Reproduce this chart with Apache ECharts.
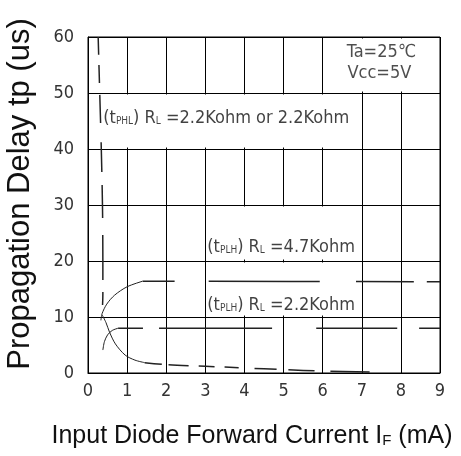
<!DOCTYPE html>
<html>
<head>
<meta charset="utf-8">
<script src="https://cdn.jsdelivr.net/npm/echarts@6/dist/echarts.min.js"></script>
<style>
  html, body { margin: 0; padding: 0; background: #fff; }
  #main { width: 461px; height: 456px; }
</style>
</head>
<body>
<div id="main"></div>
<script>
// axis ticks
const xTicks = [0, 1, 2, 3, 4, 5, 6, 7, 8, 9]
const yTicks = [0, 10, 20, 30, 40, 50, 60]

// tPHL (RL 2.2K) - steep part, bend and tail
const phlTopX = [0.26, 0.30, 0.34, 0.37, 0.38, 0.38, 0.36]
const phlTopY = [60, 50, 40, 30, 20, 14, 10.4]
const phlMidX = [0.36, 0.46, 0.55, 0.70, 0.95, 1.20, 1.45]
const phlMidY = [10.4, 9.0, 7.3, 5.2, 3.2, 2.3, 1.85]
const phlTailX = [1.45, 2, 3, 4, 5, 6, 7.2]
const phlTailY = [1.85, 1.5, 1.2, 0.9, 0.6, 0.35, 0.2]

// tPLH (RL 4.7K)
const plh47CurveX = [0.33, 0.36, 0.48, 0.68, 1.0, 1.4]
const plh47CurveY = [9.4, 10.6, 12.3, 13.9, 15.4, 16.4]
const plh47FlatX = [1.4, 9]
const plh47FlatY = [16.4, 16.3]

// tPLH (RL 2.2K)
const plh22CurveX = [0.38, 0.42, 0.50, 0.62, 0.77]
const plh22CurveY = [4.1, 5.6, 6.8, 7.6, 8.0]
const plh22FlatX = [0.77, 9]
const plh22FlatY = [8.0, 8.0]

// annotations
const noteX = [0.39, 3.05, 3.05]
const noteY = [45.5, 22.5, 12.1]
const noteText = [
  '(t{s|PHL}) R{s|L} =2.2Kohm or 2.2Kohm',
  '(t{s|PLH}) R{s|L} =4.7Kohm',
  '(t{s|PLH}) R{s|L} =2.2Kohm'
]
const condX = [7.5, 7.45]
const condY = [57.3, 53.6]
const condText = ['Ta=25℃', 'Vcc=5V']

const narrow = "'Liberation Sans Narrow', 'Arial Narrow', 'DejaVu Sans Condensed', sans-serif"
const ink = '#222'

function pts(xs, ys) {
  return xs.map((x, i) => [x, ys[i]])
}

function curve(xs, ys, type, width) {
  return {
    type: 'line', data: pts(xs, ys), smooth: 0.3, showSymbol: false, z: 3, silent: true,
    lineStyle: { color: ink, width: width, type: type }
  }
}

// white boxes where the grid lines are left out behind the texts
const gaps = [
  [6.04, 50.25, 8.96, 59.75],
  [0.04, 40.25, 6.96, 49.75],
  [3.04, 20.25, 6.96, 29.75],
  [3.04, 10.25, 6.96, 19.75]
]

const chart = echarts.init(document.getElementById('main'))
const option = {
  backgroundColor: '#fff',
  animation: false,
  grid: { left: 88, right: 21, top: 37, bottom: 83, show: true, borderColor: '#000', borderWidth: 1 },
  xAxis: {
    type: 'value', min: xTicks[0], max: xTicks[xTicks.length - 1], interval: 1,
    axisLine: { show: true, lineStyle: { color: '#000', width: 1 } },
    axisTick: { show: false },
    splitLine: { show: true, lineStyle: { color: '#000', width: 1 } },
    axisLabel: { color: '#333', fontSize: 18, fontFamily: narrow, margin: 9 }
  },
  yAxis: {
    type: 'value', min: yTicks[0], max: yTicks[yTicks.length - 1], interval: 10,
    axisLine: { show: true, lineStyle: { color: '#000', width: 1 } },
    axisTick: { show: false },
    splitLine: { show: true, lineStyle: { color: '#000', width: 1 } },
    axisLabel: { color: '#333', fontSize: 18, fontFamily: narrow, margin: 14 }
  },
  graphic: [
    {
      type: 'text', x: 20, y: 194, rotation: Math.PI / 2,
      style: {
        text: 'Propagation Delay tp (us)', fill: '#111',
        fontSize: 31, fontFamily: "'Liberation Sans', Arial, sans-serif",
        align: 'center', verticalAlign: 'middle'
      }
    },
    {
      type: 'text', x: 252, y: 436,
      style: {
        text: 'Input Diode Forward Current I{s|F} (mA)', fill: '#111',
        fontSize: 25, fontFamily: "'Liberation Sans', Arial, sans-serif",
        align: 'center', verticalAlign: 'middle',
        rich: { s: { fontSize: 15, fontFamily: "'Liberation Sans', Arial, sans-serif", fill: '#111', verticalAlign: 'bottom' } }
      }
    }
  ],
  series: [
    {
      type: 'line', data: [[0, 0]], showSymbol: false, z: 1, silent: true,
      lineStyle: { width: 0 },
      markArea: {
        silent: true, z: 1,
        itemStyle: { color: '#fff' },
        data: gaps.map(g => [{ coord: [g[0], g[1]] }, { coord: [g[2], g[3]] }])
      }
    },
    curve(phlTopX, phlTopY, [18, 10, 18, 12, 28, 19, 30, 13, 33, 17, 45, 12, 13, 10], 1.5),
    curve(phlMidX, phlMidY, 'solid', 1),
    curve(phlTailX, phlTailY, [17, 7, 20, 10, 16, 10, 14, 16, 22, 12, 26, 16, 39, 30], 1.5),
    curve(plh47CurveX, plh47CurveY, 'solid', 1),
    curve(plh47FlatX, plh47FlatY, [32, 34, 111, 36, 58, 13, 30, 30], 1.5),
    curve(plh22CurveX, plh22CurveY, 'solid', 1),
    curve(plh22FlatX, plh22FlatY, [25, 16, 113, 44, 81, 22, 30, 30], 1.5),
    {
      type: 'scatter', symbolSize: 0, z: 4, silent: true,
      data: pts(noteX, noteY),
      label: {
        show: true, position: 'inside', align: 'left', verticalAlign: 'middle',
        formatter: p => noteText[p.dataIndex],
        color: '#111', fontSize: 18, fontFamily: narrow,
        rich: { s: { fontSize: 10, fontFamily: narrow, color: '#111', verticalAlign: 'bottom', padding: [0, 0, 1, 0] } }
      }
    },
    {
      type: 'scatter', symbolSize: 0, z: 4, silent: true,
      data: pts(condX, condY),
      label: {
        show: true, position: 'inside', align: 'center', verticalAlign: 'middle',
        formatter: p => condText[p.dataIndex],
        color: '#222', fontSize: 18, fontFamily: narrow
      }
    }
  ]
}
option && chart.setOption(option)
</script>
</body>
</html>
